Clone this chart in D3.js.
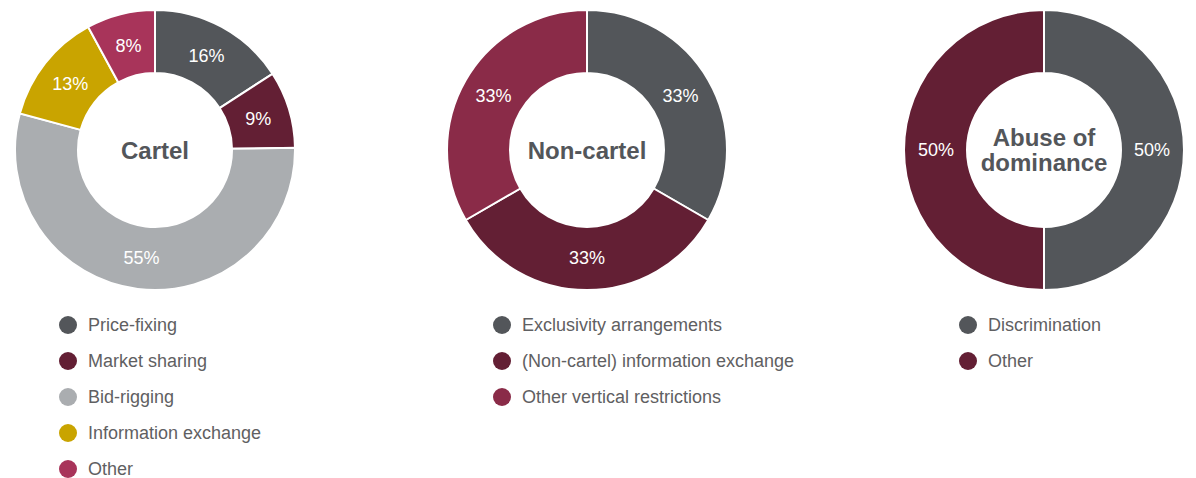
<!DOCTYPE html>
<html>
<head>
<meta charset="utf-8">
<script src="https://cdn.jsdelivr.net/npm/d3@7"></script>
<style>
  html, body { margin: 0; padding: 0; background: #ffffff; }
  svg { display: block; font-family: "Liberation Sans", Arial, Helvetica, sans-serif; }
</style>
</head>
<body>
<svg id="chart" width="1196" height="478"></svg>
<script>
// Cartel
const cartelCategories = ["Price-fixing", "Market sharing", "Bid-rigging", "Information exchange", "Other"];
const cartelValues = [16, 9, 55, 13, 8];
const cartelColors = ["#53565a", "#631f34", "#aaadb0", "#c9a400", "#a8345a"];

// Non-cartel
const nonCartelCategories = ["Exclusivity arrangements", "(Non-cartel) information exchange", "Other vertical restrictions"];
const nonCartelValues = [33, 33, 33];
const nonCartelColors = ["#53565a", "#631f34", "#8a2b48"];

// Abuse of dominance
const abuseCategories = ["Discrimination", "Other"];
const abuseValues = [50, 50];
const abuseColors = ["#53565a", "#631f34"];

const panels = [
  { title: ["Cartel"], categories: cartelCategories, values: cartelValues, colors: cartelColors, cx: 155, legendX: 68 },
  { title: ["Non-cartel"], categories: nonCartelCategories, values: nonCartelValues, colors: nonCartelColors, cx: 587, legendX: 502 },
  { title: ["Abuse of", "dominance"], categories: abuseCategories, values: abuseValues, colors: abuseColors, cx: 1044, legendX: 968 }
];

const svg = d3.select("#chart");
const cy = 150;
const outerR = 140;
const innerR = 77;
const labelR = 108;

const pie = d3.pie().sort(null).value(d => d);
const arc = d3.arc().innerRadius(innerR).outerRadius(outerR);
const labelArc = d3.arc().innerRadius(labelR).outerRadius(labelR);

panels.forEach(p => {
  const g = svg.append("g").attr("transform", `translate(${p.cx},${cy})`);
  const arcs = pie(p.values);

  g.selectAll("path.slice")
    .data(arcs)
    .join("path")
    .attr("class", "slice")
    .attr("d", arc)
    .attr("fill", (d, i) => p.colors[i])
    .attr("stroke", "#ffffff")
    .attr("stroke-width", 2);

  g.selectAll("text.pct")
    .data(arcs)
    .join("text")
    .attr("class", "pct")
    .attr("transform", d => `translate(${labelArc.centroid(d)})`)
    .attr("text-anchor", "middle")
    .attr("dy", "0.36em")
    .attr("fill", "#ffffff")
    .attr("font-size", 18)
    .text(d => d.data + "%");

  const lineH = 25;
  const y0 = -((p.title.length - 1) * lineH) / 2;
  g.selectAll("text.title")
    .data(p.title)
    .join("text")
    .attr("class", "title")
    .attr("x", 0)
    .attr("y", (d, i) => y0 + i * lineH)
    .attr("dy", "0.36em")
    .attr("text-anchor", "middle")
    .attr("font-size", 24)
    .attr("font-weight", "bold")
    .attr("fill", "#53565a")
    .text(d => d);

  // legend
  const legend = svg.append("g").attr("transform", `translate(${p.legendX},325)`);
  const rows = legend.selectAll("g.row")
    .data(p.categories)
    .join("g")
    .attr("class", "row")
    .attr("transform", (d, i) => `translate(0,${i * 36})`);
  rows.append("circle")
    .attr("r", 9)
    .attr("fill", (d, i) => p.colors[i]);
  rows.append("text")
    .attr("x", 20)
    .attr("dy", "0.35em")
    .attr("font-size", 18)
    .attr("fill", "#5f6062")
    .text(d => d);
});
</script>
</body>
</html>
